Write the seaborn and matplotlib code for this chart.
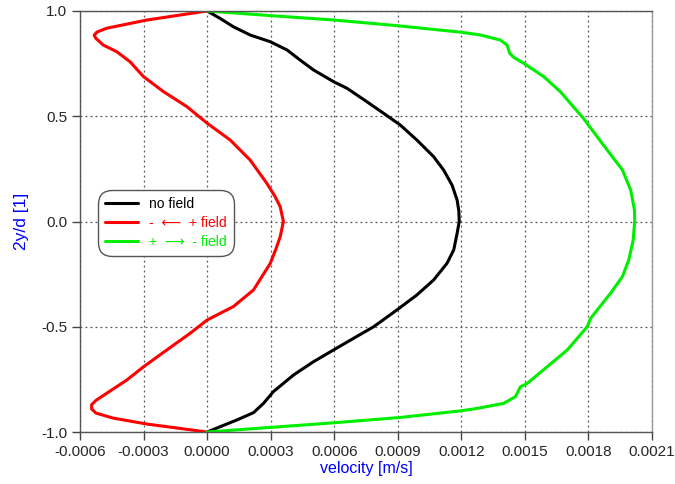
import numpy as np
import pandas as pd
import matplotlib
matplotlib.use("Agg")
import matplotlib.pyplot as plt
import seaborn as sns

# velocity profiles (velocity in m/s, position 2y/d)
y_nofield = [1.0, 0.965, 0.925, 0.886, 0.854, 0.815, 0.767, 0.72, 0.664, 0.633,
             0.569, 0.514, 0.458, 0.387, 0.308, 0.245, 0.173, 0.102, 0.05, 0.0,
             -0.056, -0.135, -0.199, -0.278, -0.349, -0.42, -0.5, -0.555, -0.61,
             -0.666, -0.729, -0.808, -0.864, -0.908, -0.943, -0.975, -1.0]
v_nofield = [0.0, 6.1e-5, 1.24e-4, 2.03e-4, 2.98e-4, 3.77e-4, 4.39e-4, 5.02e-4,
             5.97e-4, 6.6e-4, 7.54e-4, 8.33e-4, 9.12e-4, 9.9e-4, 1.069e-3,
             1.116e-3, 1.156e-3, 1.18e-3, 1.188e-3, 1.19e-3,
             1.18e-3, 1.164e-3, 1.132e-3, 1.069e-3, 9.9e-4, 8.96e-4, 7.86e-4,
             6.91e-4, 5.97e-4, 5.02e-4, 4.08e-4, 3.13e-4, 2.66e-4, 2.19e-4,
             1.4e-4, 6.1e-5, 0.0]

y_minus = [1.0, 0.957, 0.918, 0.9, 0.885, 0.87, 0.838, 0.807, 0.759, 0.688,
           0.617, 0.546, 0.467, 0.387, 0.292, 0.181, 0.12, 0.07, 0.0, -0.072,
           -0.13, -0.199, -0.325, -0.404, -0.468, -0.531, -0.61, -0.69, -0.753,
           -0.816, -0.85, -0.87, -0.89, -0.91, -0.934, -0.962, -1.0]
v_minus = [0.0, -2.85e-4, -4.74e-4, -5.2e-4, -5.33e-4, -5.25e-4, -4.9e-4,
           -4.27e-4, -3.64e-4, -3.0e-4, -2.06e-4, -9.6e-5, 0.0, 1.09e-4, 2.03e-4,
           2.82e-4, 3.2e-4, 3.45e-4, 3.6e-4, 3.45e-4, 3.25e-4, 2.98e-4, 2.19e-4,
           1.24e-4, 0.0, -8.0e-5, -1.9e-4, -3.0e-4, -3.79e-4, -4.74e-4, -5.25e-4,
           -5.45e-4, -5.45e-4, -5.25e-4, -4.43e-4, -2.85e-4, 0.0]

y_plus = [1.0, 0.978, 0.957, 0.93, 0.899, 0.886, 0.862, 0.838, 0.799, 0.78,
          0.748, 0.688, 0.617, 0.49, 0.34, 0.245, 0.15, 0.055, 0.0, -0.088,
          -0.183, -0.262, -0.341, -0.46, -0.5, -0.61, -0.69, -0.769, -0.785,
          -0.832, -0.864, -0.888, -0.899, -0.931, -0.956, -0.978, -1.0]
v_plus = [0.0, 3.0e-4, 6.0e-4, 9.0e-4, 1.2e-3, 1.29e-3, 1.384e-3, 1.416e-3,
          1.428e-3, 1.447e-3, 1.5e-3, 1.589e-3, 1.667e-3, 1.776e-3, 1.888e-3,
          1.96e-3, 1.999e-3, 2.017e-3, 2.018e-3, 2.011e-3, 1.99e-3, 1.96e-3,
          1.904e-3, 1.81e-3, 1.794e-3, 1.7e-3, 1.605e-3, 1.511e-3, 1.479e-3,
          1.455e-3, 1.4e-3, 1.274e-3, 1.2e-3, 9.1e-4, 6.0e-4, 3.0e-4, 0.0]

labels = ["no field", "-  \u27f5  + field", "+  \u27f6  - field"]
colors = ["black", "red", "#00ee00"]

frames = []
for lab, v, y in zip(labels, [v_nofield, v_minus, v_plus], [y_nofield, y_minus, y_plus]):
    frames.append(pd.DataFrame({"velocity": v, "pos": y, "case": lab}))
df = pd.concat(frames, ignore_index=True)

sns.set_style("white")
plt.rcParams["font.family"] = ["Liberation Sans", "DejaVu Sans"]

fig = plt.figure(figsize=(6.75, 4.84), dpi=100)
ax = fig.add_axes([0.1185, 0.1074, 0.8475, 0.8699])

sns.lineplot(data=df, x="velocity", y="pos", hue="case", units="case",
             estimator=None, sort=False, palette=dict(zip(labels, colors)),
             linewidth=2.2, ax=ax)
for ln in ax.get_lines():
    ln.set_solid_joinstyle("round")

ticks = np.arange(-0.0006, 0.00211, 0.0003)
ax.set_xlim(-0.0006, 0.0021)
ax.set_ylim(-1.0, 1.0)
ax.set_xticks(ticks)
ax.set_xticklabels(["%.4f" % t for t in ticks])
ax.set_yticks([-1.0, -0.5, 0.0, 0.5, 1.0])
ax.set_yticklabels(["-1.0", "-0.5", "0.0", "0.5", "1.0"])
ax.tick_params(axis="both", labelsize=11, direction="out", length=6,
               width=1, color="#444444", pad=3, bottom=True, left=True)
ax.grid(True, linestyle=(0, (1.5, 2.5)), color="#555555", linewidth=0.9)
for sp in ax.spines.values():
    sp.set_color("#555555")
    sp.set_linewidth(1)
ax.spines["right"].set_color("#999999")

ax.set_xlabel("velocity [m/s]", color="blue", fontsize=11.5, labelpad=2)
ax.set_ylabel("2y/d [1]", color="blue", fontsize=12.5, labelpad=9)

leg = ax.legend(loc="upper left", bbox_to_anchor=(0.031, 0.575), fontsize=10,
                frameon=True, fancybox=True, edgecolor="#555555",
                handlelength=2.4, handletextpad=0.8, borderpad=0.5,
                labelspacing=0.35, borderaxespad=0, framealpha=1)
leg.set_title(None)
leg.get_frame().set_boxstyle("round", pad=0, rounding_size=1.0)
for txt, c in zip(leg.get_texts(), colors):
    txt.set_color(c)

fig.savefig("out.png", dpi=100)
